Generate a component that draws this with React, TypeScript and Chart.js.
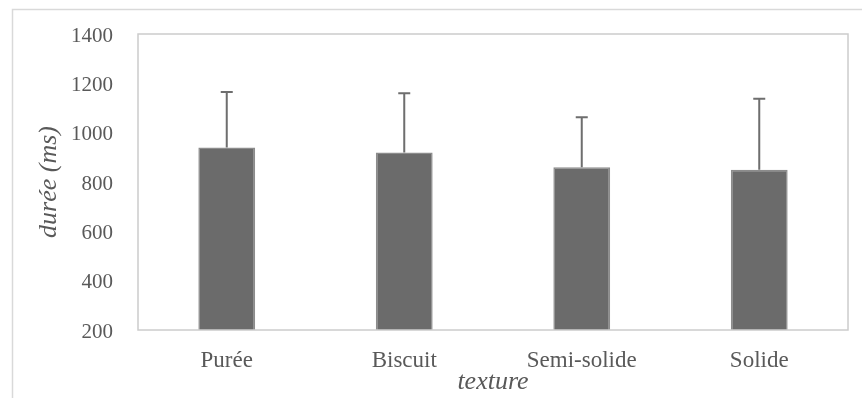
import React, { useEffect, useRef } from "react";
import { Chart, registerables } from "chart.js";

Chart.register(...registerables);

const categories = ["Purée", "Biscuit", "Semi-solide", "Solide"];
const meanValues = [940, 920, 860, 850];
const sdValues = [225, 240, 202, 288];
const yMin = 200;
const yMax = 1400;
const yStep = 200;
const xTitle = "texture";
const yTitle = "durée (ms)";

const FONT = "'Liberation Serif', 'Times New Roman', serif";
const TEXT = "#595959";

const frameAndBox = {
  id: "frameAndBox",
  beforeDraw(chart: any) {
    const ctx = chart.ctx;
    ctx.save();
    ctx.fillStyle = "#ffffff";
    ctx.fillRect(0, 0, chart.width, chart.height);
    ctx.strokeStyle = "#d9d9d9";
    ctx.lineWidth = 1.5;
    ctx.beginPath();
    ctx.moveTo(12.5, chart.height + 2);
    ctx.lineTo(12.5, 9.5);
    ctx.lineTo(chart.width + 2, 9.5);
    ctx.stroke();
    ctx.restore();
  },
  afterDatasetsDraw(chart: any) {
    const ctx = chart.ctx;
    const { left, right, top, bottom } = chart.chartArea;
    ctx.save();
    ctx.strokeStyle = "#cccccc";
    ctx.lineWidth = 1.5;
    ctx.strokeRect(left, top, right - left, bottom - top);
    ctx.restore();
  },
};

const errorBars = {
  id: "errorBars",
  afterDatasetsDraw(chart: any) {
    const ctx = chart.ctx;
    const meta = chart.getDatasetMeta(0);
    const yScale = chart.scales.y;
    ctx.save();
    ctx.strokeStyle = "#6e6e6e";
    ctx.lineWidth = 2;
    meta.data.forEach((bar: any, i: number) => {
      const x = bar.x;
      const y0 = yScale.getPixelForValue(meanValues[i]);
      const y1 = yScale.getPixelForValue(meanValues[i] + sdValues[i]);
      ctx.beginPath();
      ctx.moveTo(x, y0);
      ctx.lineTo(x, y1);
      ctx.moveTo(x - 6, y1);
      ctx.lineTo(x + 6, y1);
      ctx.stroke();
    });
    ctx.restore();
  },
};

export default function App() {
  const ref = useRef<HTMLCanvasElement | null>(null);
  useEffect(() => {
    if (!ref.current) return;
    const chart = new Chart(ref.current, {
      type: "bar",
      data: {
        labels: categories,
        datasets: [
          {
            data: meanValues,
            backgroundColor: "#6b6b6b",
            borderColor: "#8c8c8c",
            borderWidth: 1.5,
            barPercentage: 0.32,
            categoryPercentage: 1,
          },
        ],
      },
      options: {
        responsive: false,
        animation: false,
        layout: { padding: { left: 0, top: 34, right: 14, bottom: 0 } },
        plugins: {
          legend: { display: false },
          tooltip: { enabled: false },
        },
        scales: {
          x: {
            grid: { display: false, drawTicks: false },
            border: { display: false },
            ticks: {
              color: TEXT,
              padding: 17,
              font: { family: FONT, size: 23 },
            },
            title: {
              display: true,
              text: xTitle,
              color: TEXT,
              padding: { top: 0, bottom: 0 },
              font: { family: FONT, size: 26, style: "italic", lineHeight: 1.2 },
            },
            afterFit(scale: any) {
              scale.height = 68;
              scale.paddingLeft = 0;
              scale.paddingRight = 0;
            },
          },
          y: {
            min: yMin,
            max: yMax,
            grid: { display: false, drawTicks: false },
            border: { display: false },
            ticks: {
              stepSize: yStep,
              color: TEXT,
              padding: 25,
              labelOffset: 2,
              font: { family: FONT, size: 21 },
              callback: (v: any) => String(v),
            },
            title: {
              display: true,
              text: yTitle,
              color: TEXT,
              padding: { top: 34, bottom: 0 },
              font: { family: FONT, size: 26, style: "italic", lineHeight: 1.2 },
            },
            afterFit(scale: any) {
              scale.width = 138;
              scale.paddingTop = 0;
              scale.paddingBottom = 0;
            },
          },
        },
      },
      plugins: [frameAndBox, errorBars],
    });
    return () => chart.destroy();
  }, []);
  return (
    <div style={{ position: "fixed", left: 0, top: 0, width: 862, height: 398, background: "#fff" }}>
      <canvas ref={ref} width={862} height={398} style={{ display: "block" }} />
    </div>
  );
}
